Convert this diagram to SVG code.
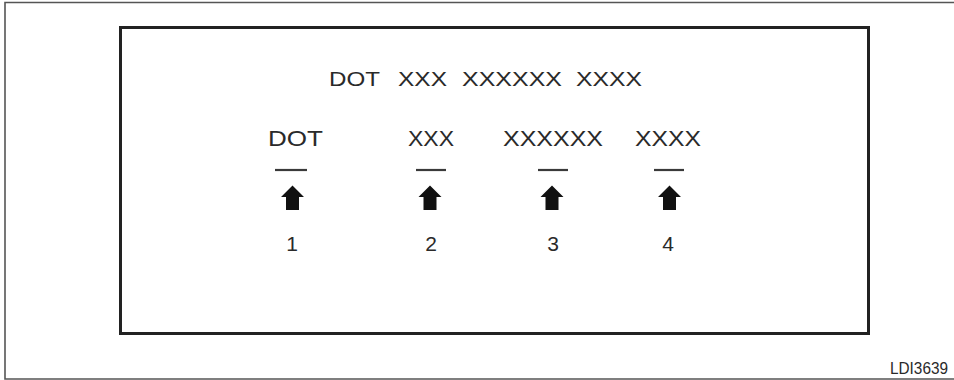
<svg xmlns="http://www.w3.org/2000/svg" xmlns:xlink="http://www.w3.org/1999/xlink" width="954" height="380" viewBox="0 0 954 380">
  <style>
    .t { font-family: "Liberation Sans", Arial, sans-serif; font-size: 21px; fill: #2a2a2a; }
    .r { font-size: 22px; }
    .n { font-family: "Liberation Sans", Arial, sans-serif; font-size: 21px; fill: #2a2a2a; text-anchor: middle; }
    .dash { stroke: #3a3a3a; stroke-width: 2.2; }
    .arrow { fill: #111; }
  </style>
  <defs>
    <polygon id="up" class="arrow" points="0,-12.5 11.5,-1 6.5,-1 6.5,12 -6.5,12 -6.5,-1 -11.5,-1"/>
  </defs>
  <rect width="954" height="380" fill="#fff"/>
  <g id="frame">
    <path d="M960,2.5 H5 V379 H960" fill="none" stroke="#555" stroke-width="1.6"/>
    <rect x="120.5" y="27.5" width="748" height="306" fill="none" stroke="#222" stroke-width="3"/>
  </g>
  <g id="title">
    <text class="t" x="329" y="86" textLength="51" lengthAdjust="spacingAndGlyphs">DOT</text>
    <text class="t" x="398" y="86" textLength="49" lengthAdjust="spacingAndGlyphs">XXX</text>
    <text class="t" x="462" y="86" textLength="100" lengthAdjust="spacingAndGlyphs">XXXXXX</text>
    <text class="t" x="576" y="86" textLength="66" lengthAdjust="spacingAndGlyphs">XXXX</text>
  </g>
  <g id="node-1">
    <text class="t r" x="268" y="146" textLength="55" lengthAdjust="spacingAndGlyphs">DOT</text>
    <text class="n" x="292" y="251">1</text>
  </g>
  <g id="node-2">
    <text class="t r" x="408" y="146" textLength="46" lengthAdjust="spacingAndGlyphs">XXX</text>
    <text class="n" x="431" y="251">2</text>
  </g>
  <g id="node-3">
    <text class="t r" x="503" y="146" textLength="100" lengthAdjust="spacingAndGlyphs">XXXXXX</text>
    <text class="n" x="553" y="251">3</text>
  </g>
  <g id="node-4">
    <text class="t r" x="635" y="146" textLength="66" lengthAdjust="spacingAndGlyphs">XXXX</text>
    <text class="n" x="668" y="251">4</text>
  </g>
  <g id="connectors">
    <line class="dash" x1="275" y1="170" x2="307" y2="170"/>
    <line class="dash" x1="416" y1="170" x2="446" y2="170"/>
    <line class="dash" x1="538" y1="170" x2="568" y2="170"/>
    <line class="dash" x1="654" y1="170" x2="684" y2="170"/>
    <use xlink:href="#up" x="292.5" y="198"/>
    <use xlink:href="#up" x="430" y="198"/>
    <use xlink:href="#up" x="552" y="198"/>
    <use xlink:href="#up" x="669.5" y="198"/>
  </g>
  <text class="t" x="890" y="374" style="font-size:16px" textLength="58" lengthAdjust="spacingAndGlyphs">LDI3639</text>
</svg>
